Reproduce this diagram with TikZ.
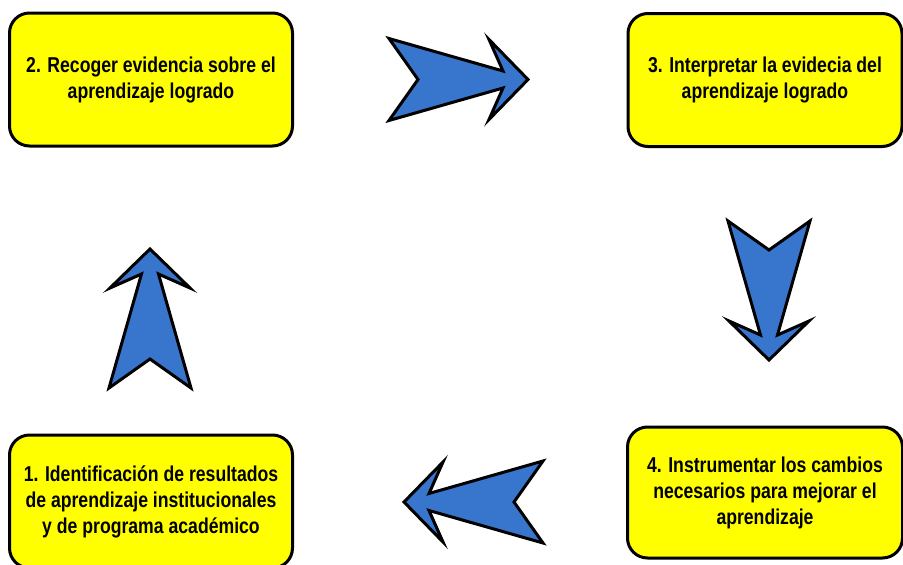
\documentclass[tikz,border=0pt]{standalone}
\usepackage{fontspec}
\setmainfont{Liberation Sans}[FakeStretch=0.82]
\usetikzlibrary{positioning}

\definecolor{boxyellow}{RGB}{255,255,0}
\definecolor{arrowblue}{RGB}{56,118,206}

\begin{document}
\begin{tikzpicture}[x=1pt, y=-1pt,
    stepbox/.style={draw, line width=3pt, fill=boxyellow, rounded corners=20pt, minimum width=283pt, minimum height=133pt, align=center, inner sep=0pt, font=\bfseries\fontsize{21.5}{26}\selectfont},
    bluearrow/.style={draw, line width=3pt, fill=arrowblue},
    pics/blockarrow/.style={code={
        \draw[bluearrow] (-70,-41) -- (-41,0) -- (-70,41) -- (44,8.5) -- (30,40) -- (69,0) -- (30,-40) -- (44,-8.5) -- cycle;
    }}
]

% Page size
\useasboundingbox (0,0) rectangle (903,565);

% Define column positions
\def\leftcol{151}
\def\rightcol{765}

% Steps
\node[stepbox] (recoger) at (\leftcol, 79.5) {2. Recoger evidencia sobre el\\aprendizaje logrado};
\node[stepbox, minimum width=274pt] (interpretar) at (\rightcol, 80) {3. Interpretar la evidecia del\\aprendizaje logrado};
\node[stepbox, minimum width=275pt, minimum height=131pt] (instrumentar) at (\rightcol, 492.5) {4. Instrumentar los cambios\\necesarios para mejorar el\\aprendizaje};
\node[stepbox] (identificar) at (\leftcol, 501.5) {1. Identificación de resultados\\de aprendizaje institucionales\\y de programa académico};

% Block arrows between the steps
\pic at (459, 79.5) {blockarrow};
\pic[rotate=-90] at (769, 291) {blockarrow};
\pic[rotate=180] at (473, 502) {blockarrow};
\pic[rotate=90] at (150, 318) {blockarrow};

\end{tikzpicture}
\end{document}
